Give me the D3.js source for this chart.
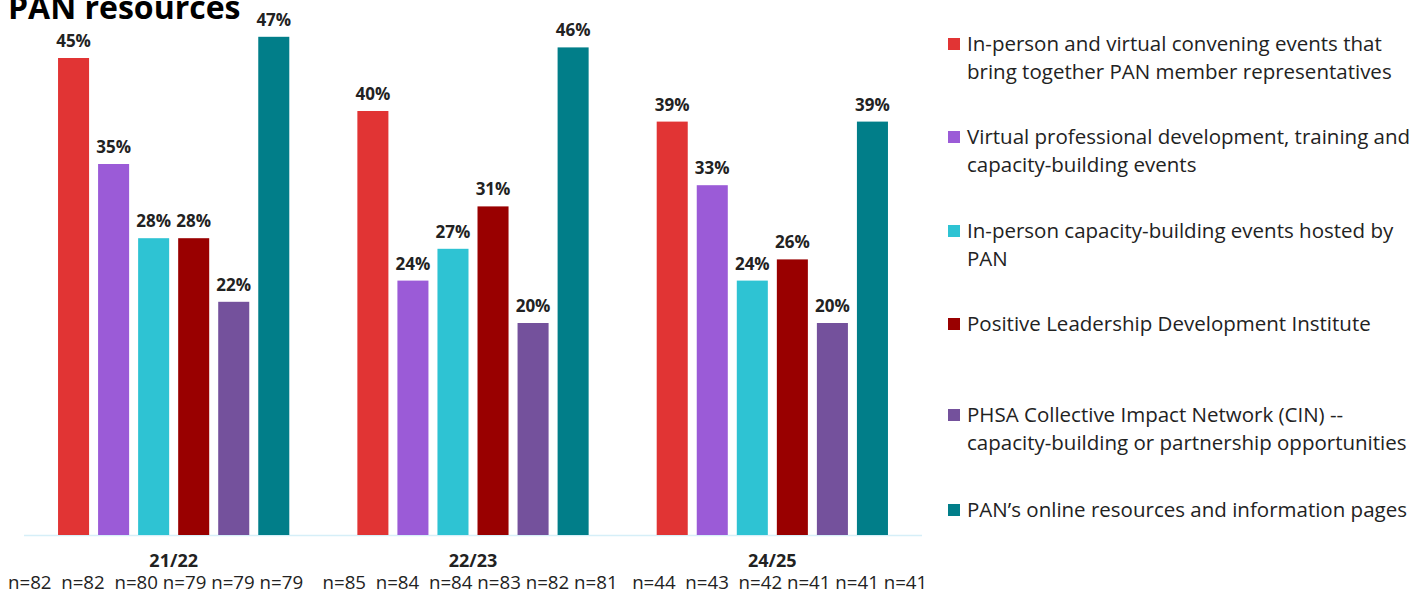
<!DOCTYPE html>
<html>
<head>
<meta charset="utf-8">
<script src="https://cdn.jsdelivr.net/npm/d3@7"></script>
<style>
  html, body { margin: 0; padding: 0; background: #ffffff; }
  svg { display: block; font-family: "Open Sans", "Noto Sans", sans-serif; }
</style>
</head>
<body>
<svg id="chart" width="1426" height="594"></svg>
<script>
// Survey periods
const periods = ["21/22", "22/23", "24/25"];

// Resource names (legend entries, one line per array element)
const resources = [
  ["In-person and virtual convening events that", "bring together PAN member representatives"],
  ["Virtual professional development, training and", "capacity-building events"],
  ["In-person capacity-building events hosted by", "PAN"],
  ["Positive Leadership Development Institute"],
  ["PHSA Collective Impact Network (CIN) --", "capacity-building or partnership opportunities"],
  ["PAN\u2019s online resources and information pages"]
];

// Percent of respondents per resource, for each period
const values2122 = [45, 35, 28, 28, 22, 47];
const values2223 = [40, 24, 27, 31, 20, 46];
const values2425 = [39, 33, 24, 26, 20, 39];

// Respondent counts shown under each period
const counts2122 = ["n=82", "n=82", "n=80", "n=79", "n=79", "n=79"];
const counts2223 = ["n=85", "n=84", "n=84", "n=83", "n=82", "n=81"];
const counts2425 = ["n=44", "n=43", "n=42", "n=41", "n=41", "n=41"];

const colors = ["#e13434", "#9b5bd7", "#2ec3d3", "#990000", "#74519c", "#017e89"];

const seriesByPeriod = [values2122, values2223, values2425];
const countsByPeriod = [counts2122, counts2223, counts2425];

const svg = d3.select("#chart");

const plot = { left: 24, right: 922, top: 5, bottom: 535 };

const x0 = d3.scaleBand()
  .domain(periods)
  .range([plot.left, plot.right])
  .padding(0);

const x1 = d3.scaleBand()
  .domain(d3.range(resources.length))
  .range([0, x0.bandwidth()])
  .paddingInner(0.225)
  .paddingOuter(0.85);

const y = d3.scaleLinear()
  .domain([0, 50])
  .range([plot.bottom, plot.top]);

// Title (continuation line of the heading)
svg.append("text")
  .attr("x", 8)
  .attr("y", 19)
  .attr("font-size", 32)
  .attr("font-weight", 700)
  .attr("fill", "#000")
  .text("PAN resources");

// Baseline
svg.append("line")
  .attr("x1", plot.left)
  .attr("x2", plot.right)
  .attr("y1", plot.bottom + 0.5)
  .attr("y2", plot.bottom + 0.5)
  .attr("stroke", "#d6eff8")
  .attr("stroke-width", 1.5);

const groups = svg.selectAll("g.period")
  .data(periods.map((p, i) => ({ period: p, values: seriesByPeriod[i] })))
  .join("g")
  .attr("class", "period")
  .attr("transform", d => `translate(${x0(d.period)},0)`);

groups.selectAll("rect")
  .data(d => d.values.map((v, k) => ({ v, k })))
  .join("rect")
  .attr("x", d => x1(d.k))
  .attr("width", x1.bandwidth())
  .attr("y", d => y(d.v))
  .attr("height", d => y(0) - y(d.v))
  .attr("fill", d => colors[d.k]);

groups.selectAll("text.value")
  .data(d => d.values.map((v, k) => ({ v, k })))
  .join("text")
  .attr("class", "value")
  .attr("x", d => x1(d.k) + x1.bandwidth() / 2)
  .attr("y", d => y(d.v) - 11)
  .attr("text-anchor", "middle")
  .attr("font-size", 17)
  .attr("font-weight", 700)
  .attr("fill", "#222")
  .text(d => d.v + "%");

// Period labels
groups.append("text")
  .attr("x", x0.bandwidth() / 2)
  .attr("y", 567)
  .attr("text-anchor", "middle")
  .attr("font-size", 18)
  .attr("font-weight", 700)
  .attr("fill", "#222")
  .text(d => d.period);

// Respondent counts: one line of text under the axis, gaps kept with non-breaking spaces
const sp = n => "\u00a0".repeat(n);
const countLine = countsByPeriod
  .map(list => list.map((c, i) => c + (i < list.length - 1 ? sp(i < 2 ? 2 : 1) : "")).join(""))
  .reduce((acc, s, i) => acc + (i === 0 ? "" : sp(i === 1 ? 4 : 3)) + s, "");

svg.append("text")
  .attr("class", "counts")
  .attr("x", 8)
  .attr("y", 589)
  .attr("font-size", 18.7)
  .attr("fill", "#222")
  .text(countLine);

// Legend
const legendTops = [44, 137, 231, 324, 415, 510];
const legend = svg.append("g").attr("transform", "translate(948,0)");
const items = legend.selectAll("g")
  .data(resources.map((lines, k) => ({ lines, k })))
  .join("g")
  .attr("transform", d => `translate(0,${legendTops[d.k]})`);

items.append("rect")
  .attr("x", 0)
  .attr("y", -6)
  .attr("width", 12)
  .attr("height", 12)
  .attr("fill", d => colors[d.k]);

items.each(function (d) {
  const t = d3.select(this).append("text")
    .attr("x", 19)
    .attr("y", 7)
    .attr("font-size", 20.5)
    .attr("fill", "#222");
  d.lines.forEach((line, i) => {
    t.append("tspan").attr("x", 19).attr("dy", i === 0 ? 0 : 28).text(line);
  });
});
</script>
</body>
</html>
